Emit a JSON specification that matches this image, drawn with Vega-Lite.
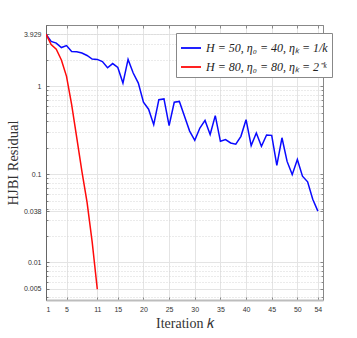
{
  "$schema": "https://vega.github.io/schema/vega-lite/v6.json",
  "width": 277,
  "height": 275,
  "autosize": {"type": "none"},
  "padding": {"left": 46, "top": 25, "right": 34, "bottom": 38},
  "background": "white",
  "config": {"view": {"stroke": null}},
  "datasets": {
    "res": [
      {"k": 1, "r": 3.929, "series": "H = 50, η₀ = 40, ηₖ = 1/k"},
      {"k": 2, "r": 3.25, "series": "H = 50, η₀ = 40, ηₖ = 1/k"},
      {"k": 3, "r": 3.11, "series": "H = 50, η₀ = 40, ηₖ = 1/k"},
      {"k": 4, "r": 2.77, "series": "H = 50, η₀ = 40, ηₖ = 1/k"},
      {"k": 5, "r": 2.92, "series": "H = 50, η₀ = 40, ηₖ = 1/k"},
      {"k": 6, "r": 2.5, "series": "H = 50, η₀ = 40, ηₖ = 1/k"},
      {"k": 7, "r": 2.48, "series": "H = 50, η₀ = 40, ηₖ = 1/k"},
      {"k": 8, "r": 2.4, "series": "H = 50, η₀ = 40, ηₖ = 1/k"},
      {"k": 9, "r": 2.25, "series": "H = 50, η₀ = 40, ηₖ = 1/k"},
      {"k": 10, "r": 2.05, "series": "H = 50, η₀ = 40, ηₖ = 1/k"},
      {"k": 11, "r": 2.03, "series": "H = 50, η₀ = 40, ηₖ = 1/k"},
      {"k": 12, "r": 1.92, "series": "H = 50, η₀ = 40, ηₖ = 1/k"},
      {"k": 13, "r": 1.63, "series": "H = 50, η₀ = 40, ηₖ = 1/k"},
      {"k": 14, "r": 1.82, "series": "H = 50, η₀ = 40, ηₖ = 1/k"},
      {"k": 15, "r": 1.64, "series": "H = 50, η₀ = 40, ηₖ = 1/k"},
      {"k": 16, "r": 1.09, "series": "H = 50, η₀ = 40, ηₖ = 1/k"},
      {"k": 17, "r": 2.03, "series": "H = 50, η₀ = 40, ηₖ = 1/k"},
      {"k": 18, "r": 1.42, "series": "H = 50, η₀ = 40, ηₖ = 1/k"},
      {"k": 19, "r": 1.09, "series": "H = 50, η₀ = 40, ηₖ = 1/k"},
      {"k": 20, "r": 0.66, "series": "H = 50, η₀ = 40, ηₖ = 1/k"},
      {"k": 21, "r": 0.55, "series": "H = 50, η₀ = 40, ηₖ = 1/k"},
      {"k": 22, "r": 0.367, "series": "H = 50, η₀ = 40, ηₖ = 1/k"},
      {"k": 23, "r": 0.706, "series": "H = 50, η₀ = 40, ηₖ = 1/k"},
      {"k": 24, "r": 0.72, "series": "H = 50, η₀ = 40, ηₖ = 1/k"},
      {"k": 25, "r": 0.357, "series": "H = 50, η₀ = 40, ηₖ = 1/k"},
      {"k": 26, "r": 0.66, "series": "H = 50, η₀ = 40, ηₖ = 1/k"},
      {"k": 27, "r": 0.675, "series": "H = 50, η₀ = 40, ηₖ = 1/k"},
      {"k": 28, "r": 0.456, "series": "H = 50, η₀ = 40, ηₖ = 1/k"},
      {"k": 29, "r": 0.31, "series": "H = 50, η₀ = 40, ηₖ = 1/k"},
      {"k": 30, "r": 0.243, "series": "H = 50, η₀ = 40, ηₖ = 1/k"},
      {"k": 31, "r": 0.336, "series": "H = 50, η₀ = 40, ηₖ = 1/k"},
      {"k": 32, "r": 0.41, "series": "H = 50, η₀ = 40, ηₖ = 1/k"},
      {"k": 33, "r": 0.283, "series": "H = 50, η₀ = 40, ηₖ = 1/k"},
      {"k": 34, "r": 0.465, "series": "H = 50, η₀ = 40, ηₖ = 1/k"},
      {"k": 35, "r": 0.237, "series": "H = 50, η₀ = 40, ηₖ = 1/k"},
      {"k": 36, "r": 0.248, "series": "H = 50, η₀ = 40, ηₖ = 1/k"},
      {"k": 37, "r": 0.227, "series": "H = 50, η₀ = 40, ηₖ = 1/k"},
      {"k": 38, "r": 0.22, "series": "H = 50, η₀ = 40, ηₖ = 1/k"},
      {"k": 39, "r": 0.27, "series": "H = 50, η₀ = 40, ηₖ = 1/k"},
      {"k": 40, "r": 0.418, "series": "H = 50, η₀ = 40, ηₖ = 1/k"},
      {"k": 41, "r": 0.212, "series": "H = 50, η₀ = 40, ηₖ = 1/k"},
      {"k": 42, "r": 0.295, "series": "H = 50, η₀ = 40, ηₖ = 1/k"},
      {"k": 43, "r": 0.208, "series": "H = 50, η₀ = 40, ηₖ = 1/k"},
      {"k": 44, "r": 0.28, "series": "H = 50, η₀ = 40, ηₖ = 1/k"},
      {"k": 45, "r": 0.277, "series": "H = 50, η₀ = 40, ηₖ = 1/k"},
      {"k": 46, "r": 0.126, "series": "H = 50, η₀ = 40, ηₖ = 1/k"},
      {"k": 47, "r": 0.26, "series": "H = 50, η₀ = 40, ηₖ = 1/k"},
      {"k": 48, "r": 0.14, "series": "H = 50, η₀ = 40, ηₖ = 1/k"},
      {"k": 49, "r": 0.099, "series": "H = 50, η₀ = 40, ηₖ = 1/k"},
      {"k": 50, "r": 0.147, "series": "H = 50, η₀ = 40, ηₖ = 1/k"},
      {"k": 51, "r": 0.095, "series": "H = 50, η₀ = 40, ηₖ = 1/k"},
      {"k": 52, "r": 0.082, "series": "H = 50, η₀ = 40, ηₖ = 1/k"},
      {"k": 53, "r": 0.052, "series": "H = 50, η₀ = 40, ηₖ = 1/k"},
      {"k": 54, "r": 0.038, "series": "H = 50, η₀ = 40, ηₖ = 1/k"},
      {"k": 1, "r": 3.929, "series": "H = 80, η₀ = 80, ηₖ = 2⁻ᵏ"},
      {"k": 2, "r": 3.0, "series": "H = 80, η₀ = 80, ηₖ = 2⁻ᵏ"},
      {"k": 3, "r": 2.65, "series": "H = 80, η₀ = 80, ηₖ = 2⁻ᵏ"},
      {"k": 4, "r": 2.0, "series": "H = 80, η₀ = 80, ηₖ = 2⁻ᵏ"},
      {"k": 5, "r": 1.3, "series": "H = 80, η₀ = 80, ηₖ = 2⁻ᵏ"},
      {"k": 6, "r": 0.62, "series": "H = 80, η₀ = 80, ηₖ = 2⁻ᵏ"},
      {"k": 7, "r": 0.26, "series": "H = 80, η₀ = 80, ηₖ = 2⁻ᵏ"},
      {"k": 8, "r": 0.108, "series": "H = 80, η₀ = 80, ηₖ = 2⁻ᵏ"},
      {"k": 9, "r": 0.048, "series": "H = 80, η₀ = 80, ηₖ = 2⁻ᵏ"},
      {"k": 10, "r": 0.017, "series": "H = 80, η₀ = 80, ηₖ = 2⁻ᵏ"},
      {"k": 11, "r": 0.0049, "series": "H = 80, η₀ = 80, ηₖ = 2⁻ᵏ"}
    ]
  },
  "data": {"name": "res"},
  "layer": [
    {
      "mark": {"type": "line", "strokeWidth": 1.5, "clip": true},
      "encoding": {
        "x": {
          "field": "k", "type": "quantitative",
          "scale": {"domain": [1, 55], "nice": false, "zero": false},
          "axis": {
            "orient": "bottom",
            "values": [1, 5, 11, 15, 20, 25, 30, 35, 40, 45, 50, 54],
            "grid": true, "gridColor": "#e4e4e4", "gridWidth": 1,
            "domainColor": "#bdbdbd", "domainWidth": 2,
            "tickColor": "#888888", "tickSize": -3, "tickWidth": 1,
            "labelFont": "Liberation Sans", "labelFontSize": 7, "labelColor": "#333333",
            "labelPadding": 8, "labelOverlap": false,
            "title": "Iteration 𝑘",
            "titleFont": "Liberation Serif", "titleFontSize": 14, "titleFontWeight": "normal",
            "titleColor": "#333333", "titlePadding": 4
          }
        },
        "y": {
          "field": "r", "type": "quantitative",
          "scale": {"type": "log", "domain": [0.0037, 5], "nice": false},
          "axis": {
            "orient": "left",
            "values": [0.004, 0.005, 0.006, 0.007, 0.008, 0.009, 0.01, 0.02, 0.03, 0.038, 0.04, 0.05, 0.06, 0.07, 0.08, 0.09, 0.1, 0.2, 0.3, 0.4, 0.5, 0.6, 0.7, 0.8, 0.9, 1, 2, 3, 3.929, 4, 5],
            "labelExpr": "indexof([0.005, 0.01, 0.038, 0.1, 1, 3.929], datum.value) >= 0 ? '' + datum.value : ''",
            "grid": true,
            "gridColor": {"condition": {"test": "indexof([0.005, 0.01, 0.038, 0.1, 1, 3.929], datum.value) >= 0", "value": "#e4e4e4"}, "value": "#d6d6d6"},
            "gridDash": {"condition": {"test": "indexof([0.005, 0.01, 0.038, 0.1, 1, 3.929], datum.value) >= 0", "value": []}, "value": [1, 2]},
            "domainColor": "#666666", "domainWidth": 1,
            "tickColor": "#777777",
            "tickSize": {"condition": {"test": "indexof([0.005, 0.01, 0.038, 0.1, 1, 3.929], datum.value) >= 0", "value": -3}, "value": -2},
            "labelFont": "Liberation Sans", "labelFontSize": 7, "labelColor": "#333333",
            "labelPadding": 8, "labelOverlap": false,
            "title": "HJBI Residual",
            "titleFont": "Liberation Serif", "titleFontSize": 14.5, "titleFontWeight": "normal",
            "titleColor": "#333333", "titlePadding": 3
          }
        },
        "color": {
          "field": "series", "type": "nominal",
          "scale": {"domain": ["H = 50, η₀ = 40, ηₖ = 1/k", "H = 80, η₀ = 80, ηₖ = 2⁻ᵏ"], "range": ["#0a0aff", "#ff0a0a"]},
          "legend": {
            "title": null, "orient": "none", "legendX": 130, "legendY": 8,
            "symbolType": "stroke", "symbolSize": 400, "symbolStrokeWidth": 1.8,
            "labelFont": "Liberation Serif", "labelFontStyle": "italic", "labelFontSize": 12,
            "labelColor": "#222222", "labelLimit": 300,
            "strokeColor": "#888888", "fillColor": "white", "padding": 4, "rowPadding": 2,
            "cornerRadius": 0
          }
        }
      }
    },
    {
      "mark": {"type": "line", "opacity": 0},
      "encoding": {
        "x": {
          "field": "k", "type": "quantitative",
          "axis": {
            "orient": "top", "values": [1, 5, 11, 15, 20, 25, 30, 35, 40, 45, 50, 54],
            "labels": false, "grid": false, "title": null,
            "domainColor": "#888888", "domainWidth": 1,
            "tickColor": "#888888", "tickSize": -3
          }
        },
        "y": {
          "field": "r", "type": "quantitative",
          "axis": {
            "orient": "right",
            "values": [0.004, 0.005, 0.006, 0.007, 0.008, 0.009, 0.01, 0.02, 0.03, 0.038, 0.04, 0.05, 0.06, 0.07, 0.08, 0.09, 0.1, 0.2, 0.3, 0.4, 0.5, 0.6, 0.7, 0.8, 0.9, 1, 2, 3, 3.929, 4, 5],
            "labels": false, "grid": false, "title": null,
            "domainColor": "#888888", "domainWidth": 1,
            "tickColor": "#888888",
            "tickSize": {"condition": {"test": "indexof([0.005, 0.01, 0.038, 0.1, 1, 3.929], datum.value) >= 0", "value": -3}, "value": -2}
          }
        },
        "detail": {"field": "series", "type": "nominal"}
      }
    }
  ],
  "resolve": {"axis": {"x": "independent", "y": "independent"}}
}
